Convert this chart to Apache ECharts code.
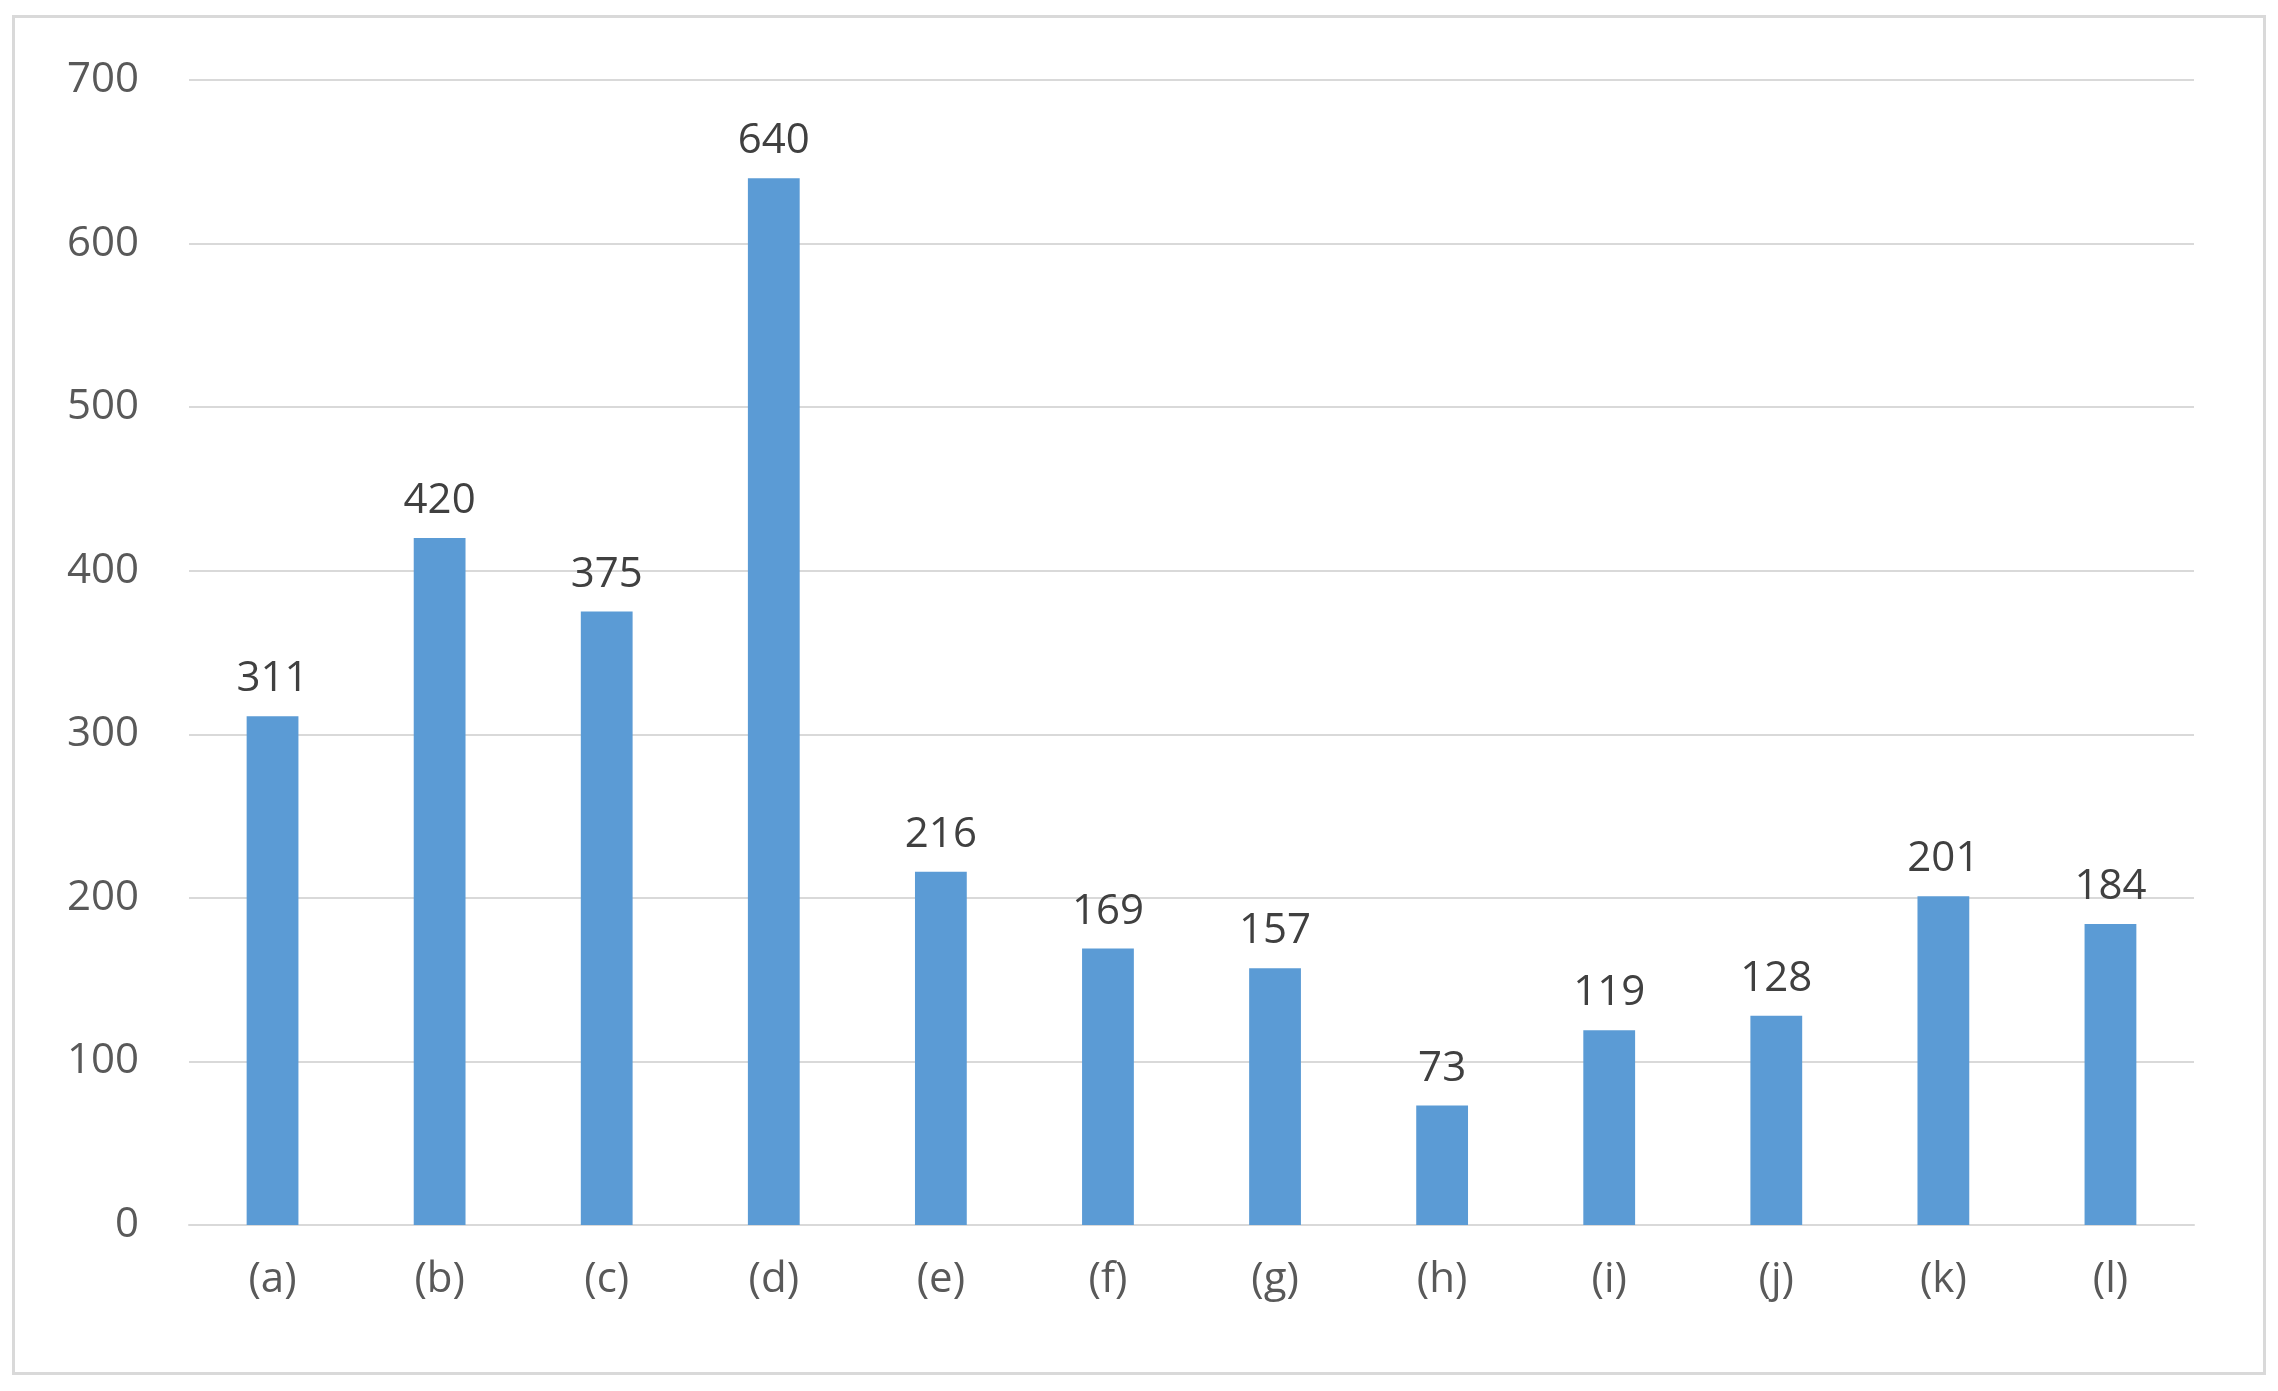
<!DOCTYPE html>
<html>
<head>
<meta charset="utf-8">
<script src="https://cdn.jsdelivr.net/npm/echarts@6/dist/echarts.min.js"></script>
<style>
  html, body { margin: 0; padding: 0; background: #fff; }
  #frame { position: absolute; left: 12px; top: 15px; width: 2248px; height: 1354px; border: 3px solid #d9d9d9; }
  #main { position: absolute; left: 0; top: 0; width: 2278px; height: 1391px; }
</style>
</head>
<body>
<div id="frame"></div>
<div id="main"></div>
<script>
// categories and values
var categories = ['(a)', '(b)', '(c)', '(d)', '(e)', '(f)', '(g)', '(h)', '(i)', '(j)', '(k)', '(l)'];
var values = [311, 420, 375, 640, 216, 169, 157, 73, 119, 128, 201, 184];

var chart = echarts.init(document.getElementById('main'));
var option = {
  animation: false,
  grid: {
    left: 189,
    right: 84,
    top: 80,
    bottom: 166
  },
  xAxis: {
    type: 'category',
    data: categories,
    axisLine: { lineStyle: { color: '#d9d9d9', width: 2 } },
    axisTick: { show: false },
    axisLabel: {
      color: '#595959',
      fontSize: 42,
      fontFamily: 'Open Sans',
      margin: 34
    }
  },
  yAxis: {
    type: 'value',
    min: 0,
    max: 700,
    interval: 100,
    axisLine: { show: false },
    axisTick: { show: false },
    splitLine: { lineStyle: { color: '#d9d9d9', width: 2 } },
    axisLabel: {
      color: '#595959',
      fontSize: 42,
      fontFamily: 'Open Sans',
      margin: 50
    }
  },
  series: [
    {
      type: 'bar',
      data: values,
      barWidth: '31%',
      itemStyle: { color: '#5B9BD5' },
      label: {
        show: true,
        position: 'top',
        distance: 16,
        color: '#404040',
        fontSize: 42,
        fontFamily: 'Open Sans'
      }
    }
  ]
};
chart.setOption(option);
</script>
</body>
</html>
